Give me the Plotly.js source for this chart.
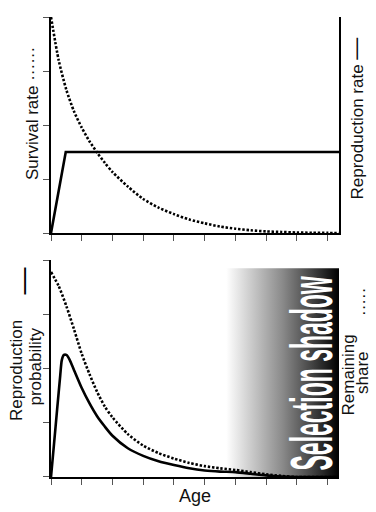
<!DOCTYPE html>
<html><head><meta charset="utf-8">
<script src="https://cdn.plot.ly/plotly-3.0.1.min.js"></script>
<style>html,body{margin:0;padding:0;background:#fff}#chart{width:376px;height:512px}</style>
</head><body><div id="chart"></div>
<script>
// ---- data ----
const ageTicks = [0,1,2,3,4,5,6,7,8,9];
const yTicks = [0,1,2,3,4];
const ageMax = 9.37;

// top panel
const ageSurvival = [0,0.25,0.5,0.75,1,1.25,1.5,1.75,2,2.5,3,3.5,4,4.5,5,5.5,6,6.5,7,7.5,8,8.5,9,9.37];
const survivalRate = [4.0,3.2,2.65,2.25,1.95,1.7,1.49,1.3,1.13,0.86,0.63,0.47,0.35,0.25,0.18,0.12,0.08,0.05,0.03,0.02,0.01,0.005,0.002,0];
const ageRepro = [0,0.48,9.37];
const reproRate = [0,1.5,1.5];

// bottom panel
const ageProb = [0,0.1,0.2,0.3,0.35,0.42,0.5,0.6,0.75,1,1.25,1.5,1.75,2,2.5,3,3.5,4,4.5,5,5.5,6,6.5,7,7.5,8,9.37];
const reproProb = [0,0.62,1.25,1.87,2.15,2.25,2.25,2.17,1.97,1.64,1.36,1.12,0.93,0.76,0.53,0.39,0.29,0.22,0.16,0.12,0.1,0.09,0.06,0.03,0.01,0,0];
const ageShare = [0,0.25,0.5,0.75,1,1.25,1.5,1.75,2,2.5,3,3.5,4,4.5,5,5.5,6,6.5,7,7.5,8,9.37];
const remainingShare = [3.78,3.52,3.15,2.72,2.27,1.9,1.57,1.3,1.1,0.79,0.58,0.44,0.34,0.26,0.2,0.16,0.13,0.09,0.05,0.02,0,0];

// selection shadow band
const shadowAge = [5.7, 9.37];
const shadowTop = 3.85;

// ---- traces ----
const dotDash = '2.4px,1.8px';
const traces = [
  {x: ageSurvival, y: survivalRate, xaxis:'x', yaxis:'y', mode:'lines',
   line:{color:'#000', width:2.6, dash:dotDash, shape:'spline', smoothing:0.7}, hoverinfo:'skip'},
  {x: ageRepro, y: reproRate, xaxis:'x', yaxis:'y3', mode:'lines',
   line:{color:'#000', width:2.6}, hoverinfo:'skip'},
  {x: [shadowAge[0],shadowAge[1],shadowAge[1],shadowAge[0],shadowAge[0]],
   y: [0,0,shadowTop,shadowTop,0], xaxis:'x2', yaxis:'y2', mode:'lines',
   fill:'toself', line:{width:0, color:'rgba(0,0,0,0)'},
   fillgradient:{type:'horizontal', colorscale:[[0,'#ffffff'],[0.25,'#c4c4c4'],[0.5,'#8a8a8a'],[0.75,'#464646'],[1,'#000000']]},
   hoverinfo:'skip'},
  {x: ageShare, y: remainingShare, xaxis:'x2', yaxis:'y2', mode:'lines',
   line:{color:'#000', width:2.6, dash:dotDash, shape:'spline', smoothing:0.7}, hoverinfo:'skip'},
  {x: ageProb, y: reproProb, xaxis:'x2', yaxis:'y2', mode:'lines',
   line:{color:'#000', width:2.6, shape:'spline', smoothing:0.6}, hoverinfo:'skip'}
];

const xAx = {range:[0,ageMax], tickvals:ageTicks, showticklabels:false, ticks:'outside', ticklen:6, tickwidth:1,
  tickcolor:'#555', showline:true, linewidth:2, linecolor:'#000', showgrid:false, zeroline:false, fixedrange:true};
const yAx = {range:[0,4], tickvals:yTicks, showticklabels:false, ticks:'outside', ticklen:6, tickwidth:1,
  tickcolor:'#555', showline:true, linewidth:2, linecolor:'#000', showgrid:false, zeroline:false, fixedrange:true};

const px = v => (v-51)/288;
const py = v => (477-v)/460;
const txt = '#111';
const ann = (text, x, y, opts) => Object.assign({text, xref:'paper', yref:'paper', x:px(x), y:py(y),
  xanchor:'center', yanchor:'middle', showarrow:false, textangle:-90,
  font:{family:'Liberation Sans, Arial, sans-serif', size:17, color:txt}}, opts||{});

const layout = {
  width:376, height:512, margin:{l:51, r:37, t:17, b:35, pad:0},
  paper_bgcolor:'#fff', plot_bgcolor:'rgba(0,0,0,0)', showlegend:false,
  font:{family:'Liberation Sans, Arial, sans-serif', size:17, color:txt},
  xaxis: Object.assign({}, xAx, {anchor:'y', domain:[0,1]}),
  yaxis: Object.assign({}, yAx, {anchor:'x', domain:[0.5304,1]}),
  yaxis3: {overlaying:'y', side:'right', anchor:'x', range:[0,4], showline:true, linewidth:2, linecolor:'#000',
    ticks:'', showticklabels:false, showgrid:false, zeroline:false, fixedrange:true},
  xaxis2: Object.assign({}, xAx, {anchor:'y2', domain:[0,1]}),
  yaxis2: Object.assign({}, yAx, {anchor:'x2', domain:[0,0.4717]}),
  annotations: [
    ann('Survival rate ······', 32.5, 113.5),
    ann('Reproduction rate <span style="font-size:22px">—</span>', 354.5, 119),
    ann('Reproduction', 16, 371),
    ann('probability', 34.5, 367),
    ann('<span style="font-size:27px">—</span>', 22, 281.5, {font:{family:'Liberation Sans, Arial, sans-serif', size:17, color:'#000'}}),
    ann('Remaining', 347.5, 375),
    ann('share', 362, 373),
    ann('·····', 363.5, 302.5),
    ann('<b>Selection shadow</b>', 311.5, 374, {font:{family:'Liberation Sans, Arial, sans-serif', size:23, color:'#fff'}}),
    ann('Age', 195, 496, {textangle:0, font:{family:'Liberation Sans, Arial, sans-serif', size:18, color:txt}})
  ]
};

Plotly.newPlot('chart', traces, layout, {staticPlot:true, displayModeBar:false, responsive:false}).then(() => {
  document.querySelectorAll('#chart .annotation-text').forEach(el => {
    if (el.textContent.trim() === 'Selection shadow') {
      el.style.transformBox = 'fill-box';
      el.style.transformOrigin = 'center';
      el.style.transform = 'scale(1,2.6)';
    }
  });
});
</script></body></html>
